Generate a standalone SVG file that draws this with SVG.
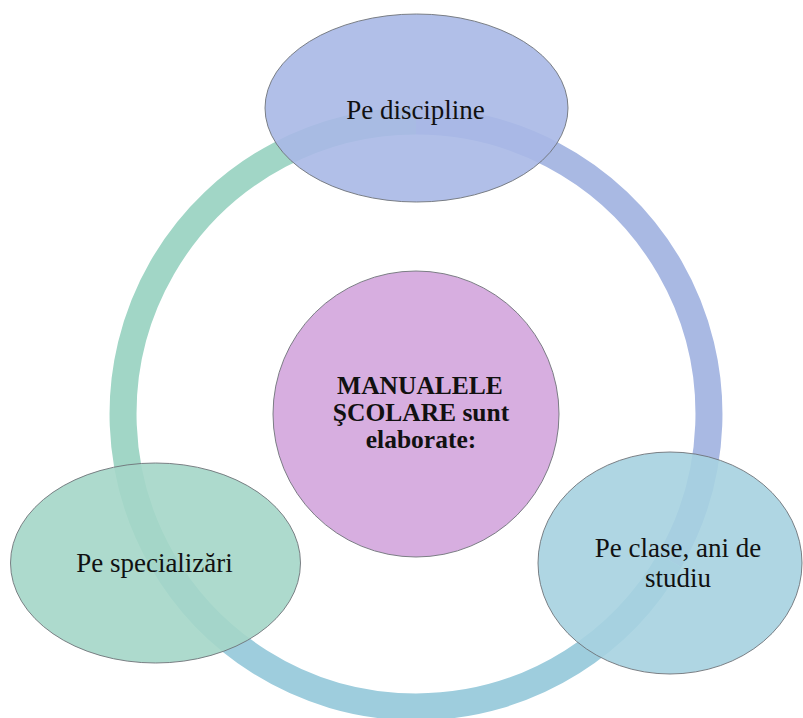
<svg xmlns="http://www.w3.org/2000/svg" width="803" height="718" viewBox="0 0 803 718">
<style>
.ring{fill:none;stroke-width:27;stroke-linecap:butt}
.node{stroke:#6e7378;stroke-width:0.9;fill-opacity:0.9}
.t{font-family:"Liberation Serif","Times New Roman",serif;font-size:27px;fill:#111;text-anchor:middle}
.b{font-weight:bold;font-size:25.5px}
</style>
<rect width="803" height="718" fill="#ffffff"/>
<g id="connectors">
<path class="ring" stroke="#a9b9e3" d="M 416 121 A 293 293 0 0 1 669.7 560.5"/>
<path class="ring" stroke="#9ecddd" d="M 669.7 560.5 A 293 293 0 0 1 162.3 560.5"/>
<path class="ring" stroke="#a1d6c6" d="M 162.3 560.5 A 293 293 0 0 1 416 121"/>
</g>
<g id="center">
<circle class="node" cx="416" cy="414" r="143" fill="#d3a5dd" fill-opacity="1"/>
<text class="t b" x="420" y="394">MANUALELE</text>
<text class="t b" x="421" y="421">ŞCOLARE sunt</text>
<text class="t b" x="421" y="448">elaborate:</text>
</g>
<g id="node-discipline">
<ellipse class="node" cx="416.5" cy="108" rx="151.5" ry="94" fill="#a8b8e5"/>
<text class="t" x="415.5" y="119">Pe discipline</text>
</g>
<g id="node-clase">
<ellipse class="node" cx="670" cy="563" rx="132" ry="111" fill="#a6d1e0"/>
<text class="t" x="678" y="557">Pe clase, ani de</text>
<text class="t" x="678" y="587">studiu</text>
</g>
<g id="node-specializari">
<ellipse class="node" cx="155.5" cy="563" rx="145" ry="100" fill="#a4d6c8"/>
<text class="t" x="154.5" y="572">Pe specializări</text>
</g>
</svg>
